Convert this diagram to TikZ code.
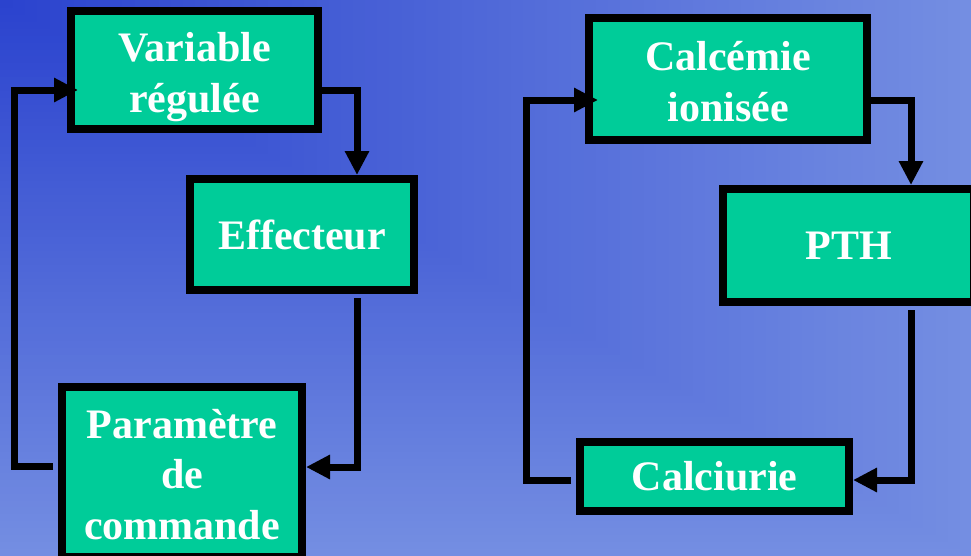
\documentclass[tikz,border=0pt]{standalone}
\usepackage{fontspec}
\setmainfont{Liberation Serif}
\usetikzlibrary{arrows.meta}
\definecolor{bgA}{RGB}{42,66,206}
\definecolor{bgB}{RGB}{116,142,226}
\definecolor{boxgreen}{RGB}{0,204,153}
\newcommand{\topstrut}{\rule{0pt}{34pt}}
\begin{document}
\begin{tikzpicture}[x=1pt,y=-1pt,
  box/.style={draw=black, line width=8pt, fill=boxgreen, text=white,
    font=\fontsize{42}{50.5}\selectfont\bfseries, align=center, inner sep=0pt},
  conn/.style={draw=black, line width=7pt, line join=miter,
    -{Triangle[length=24pt,width=23pt]}}]
\useasboundingbox (0,0) rectangle (971,555);
% background: corner gradient
\foreach \i in {80,79,...,1}{
  \pgfmathsetmacro\t{\i/80}
  \pgfmathsetmacro\p{100*\t}
  \fill[bgB!\p!bgA] (0,0) rectangle (971*\t+1,555*\t+1);
}
% left loop
\node[box, minimum width=247pt, minimum height=118pt] (var) at (194.5,70)
  {\topstrut Variable\\\raisebox{0pt}[\height][0pt]{régulée}};
\node[box, minimum width=224pt, minimum height=111pt] (eff) at (302,234.5) {Effecteur};
\node[box, minimum width=240pt, minimum height=170pt] (par) at (182,472)
  {\topstrut Paramètre\\de\\commande};
% right loop
\node[box, minimum width=278pt, minimum height=122pt] (cal) at (728,79)
  {\topstrut Calcémie\\ionisée};
\node[box, minimum width=251pt, minimum height=113pt] (pth) at (848.5,245.5) {PTH};
\node[box, minimum width=269pt, minimum height=69pt] (cur) at (714.5,476.5) {Calciurie};
% connectors left
\draw[conn] ([yshift=-20pt]var.east) -| ([xshift=55pt]eff.north);
\draw[conn] ([xshift=55pt,yshift=-4pt]eff.south) |- ([yshift=5pt]par.east);
\draw[conn] ([xshift=-5pt,yshift=6pt]par.west) -- ++(-39,0)
  |- ([xshift=11pt,yshift=-20pt]var.west);
% connectors right
\draw[conn] ([yshift=-21pt]cal.east) -| ([xshift=62.5pt]pth.north);
\draw[conn] ([xshift=62.5pt,yshift=-4pt]pth.south) |- ([yshift=-3.5pt]cur.east);
\draw[conn] ([xshift=-5pt,yshift=-3.5pt]cur.west) -- ++(-45,0)
  |- ([xshift=13pt,yshift=-21pt]cal.west);
\end{tikzpicture}
\end{document}
